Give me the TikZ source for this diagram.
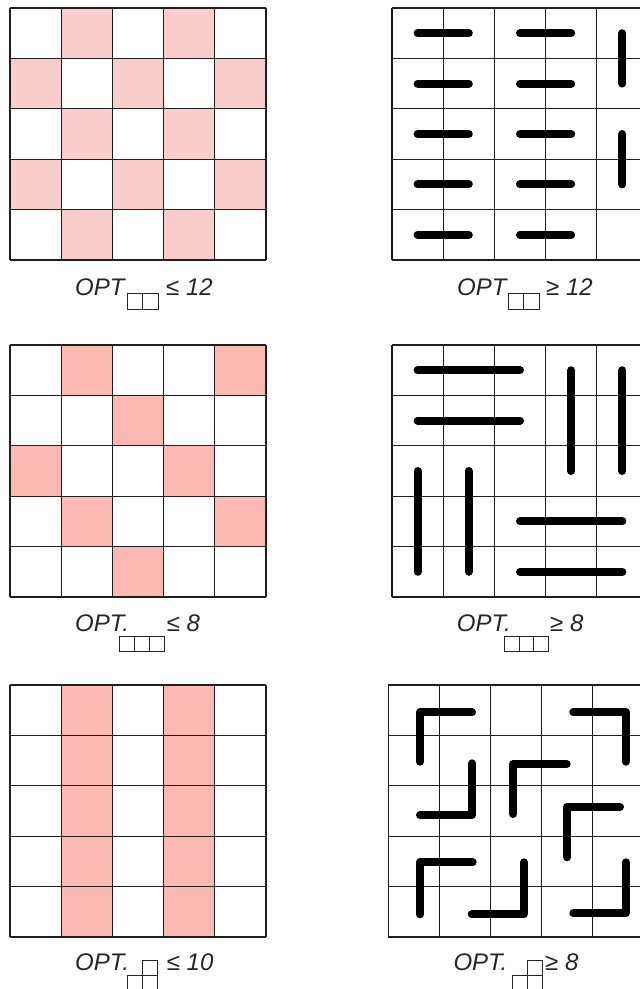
\documentclass[tikz,border=0pt]{standalone}
\usepackage{fontspec}
\setmainfont{Liberation Sans}
\newcommand\mkgrid[4]{%
  \foreach \i in {0,...,5} {
    \draw[gridln] ({#1+\i*#3},#2) -- ({#1+\i*#3},{#2+5*#4});
    \draw[gridln] (#1,{#2+\i*#4}) -- ({#1+5*#3},{#2+\i*#4});
  }}
\newcommand\mkcell[6]{% x0 y0 w h col row
  \fill[#6] ({#1+#5*#3},{#2+#4*0}) rectangle ++(#3,#4);}
\begin{document}
\begin{tikzpicture}[x=1pt,y=-1pt,
  gridln/.style={line width=1.2pt,color=black!88},
  bar/.style={line width=8pt,line cap=round,line join=round,black},
  pinkA/.style={fill={rgb,255:red,249;green,206;blue,202}},
  pinkB/.style={fill={rgb,255:red,252;green,185;blue,178}},
  lbl/.style={font=\fontsize{24}{28}\selectfont\itshape,inner sep=0pt,text=black!85},
  minibox/.style={line width=1pt,black!85}]
\useasboundingbox (0,0) rectangle (640,989);
\clip (0,0) rectangle (640,989);
\fill[white] (0,0) rectangle (640,989);

% ---------- Row 1 left: checkerboard
\foreach \r in {0,...,4} \foreach \c in {0,...,4} {
  \pgfmathparse{int(mod(\r+\c,2))}
  \ifnum\pgfmathresult=1
    \fill[pinkA] ({10+\c*51.2},{8+\r*50.4}) rectangle ++(51.2,50.4);
  \fi
}
\mkgrid{10}{8}{51.2}{50.4}

% ---------- Row 2 left
\foreach \c/\r in {1/0,4/0,2/1,0/2,3/2,1/3,4/3,2/4}
  \fill[pinkB] ({10+\c*51.2},{345+\r*50.4}) rectangle ++(51.2,50.4);
\mkgrid{10}{345}{51.2}{50.4}

% ---------- Row 3 left
\foreach \c in {1,3} \foreach \r in {0,...,4}
  \fill[pinkB] ({10+\c*51.2},{685+\r*50.4}) rectangle ++(51.2,50.4);
\mkgrid{10}{685}{51.2}{50.4}

% ---------- Row 1 right: dominoes
\mkgrid{392}{8}{51.2}{50.4}
\foreach \r in {0,...,4} {
  \draw[bar] (417.6,{33.2+\r*50.4}) -- (468.8,{33.2+\r*50.4});
  \draw[bar] (520,{33.2+\r*50.4}) -- (571.2,{33.2+\r*50.4});
}
\draw[bar] (622.4,33.2) -- (622.4,83.6);
\draw[bar] (622.4,134) -- (622.4,184.4);

% ---------- Row 2 right: straight trominoes
\mkgrid{392}{345}{51.2}{50.4}
\draw[bar] (417.6,370.2) -- (520,370.2);
\draw[bar] (417.6,420.6) -- (520,420.6);
\draw[bar] (571.2,370.2) -- (571.2,471);
\draw[bar] (622.4,370.2) -- (622.4,471);
\draw[bar] (417.6,471) -- (417.6,571.8);
\draw[bar] (468.8,471) -- (468.8,571.8);
\draw[bar] (520,521.4) -- (622.4,521.4);
\draw[bar] (520,571.8) -- (622.4,571.8);

% ---------- Row 3 right: L-trominoes
\mkgrid{388.3}{685}{51}{50.4}
\draw[bar] (472,712.3) -- (420,712.3) -- (420,761.7);
\draw[bar] (573.3,712.3) -- (625.7,712.3) -- (625.7,761.7);
\draw[bar] (472.3,763.3) -- (472.3,815) -- (420,815);
\draw[bar] (566.7,764) -- (513.3,764) -- (513.3,814);
\draw[bar] (620,806.7) -- (567.3,806.7) -- (567.3,857.3);
\draw[bar] (472.7,862.3) -- (420,862.3) -- (420,914.3);
\draw[bar] (524,862.3) -- (524,914.3) -- (471.7,914.3);
\draw[bar] (625.7,862.3) -- (625.7,913.3) -- (573.3,913.3);

% ---------- Labels
% row 1
\node[lbl,anchor=base west] (t1l) at (75,295) {OPT};
\draw[minibox] (127,293) rectangle (158,309) (142.5,293) -- (142.5,309);
\node[lbl,anchor=base west] (v1l) at (166,295) {≤ 12};
\node[lbl,anchor=base west] (t1r) at (457,295) {OPT};
\draw[minibox] (508.3,293) rectangle (539.3,309) (523.8,293) -- (523.8,309);
\node[lbl,anchor=base west] (v1r) at (546,295) {≥ 12};
% row 2
\node[lbl,anchor=base west] (t2l) at (75,631.7) {OPT.};
\draw[minibox] (119.3,636.7) rectangle (164.3,651.7) (134.3,636.7) -- (134.3,651.7) (149.3,636.7) -- (149.3,651.7);
\node[lbl,anchor=base west] (v2l) at (166.7,631.7) {≤ 8};
\node[lbl,anchor=base west] (t2r) at (456.7,631) {OPT.};
\draw[minibox] (504.3,636) rectangle (548.3,651) (519,636) -- (519,651) (533.7,636) -- (533.7,651);
\node[lbl,anchor=base west] (v2r) at (550,631) {≥ 8};
% row 3
\node[lbl,anchor=base west] (t3l) at (75,970) {OPT.};
\draw[minibox] (142.7,960) rectangle (157.7,975) (127.7,975) rectangle (157.7,990) (142.7,975) -- (142.7,990);
\node[lbl,anchor=base west] (v3l) at (166.7,970) {≤ 10};
\node[lbl,anchor=base west] (t3r) at (453.3,970) {OPT.};
\draw[minibox] (527.7,960) rectangle (542.7,975) (512.7,975) rectangle (542.7,990) (527.7,975) -- (527.7,990);
\node[lbl,anchor=base west] (v3r) at (545,970) {≥ 8};
\end{tikzpicture}
\end{document}
